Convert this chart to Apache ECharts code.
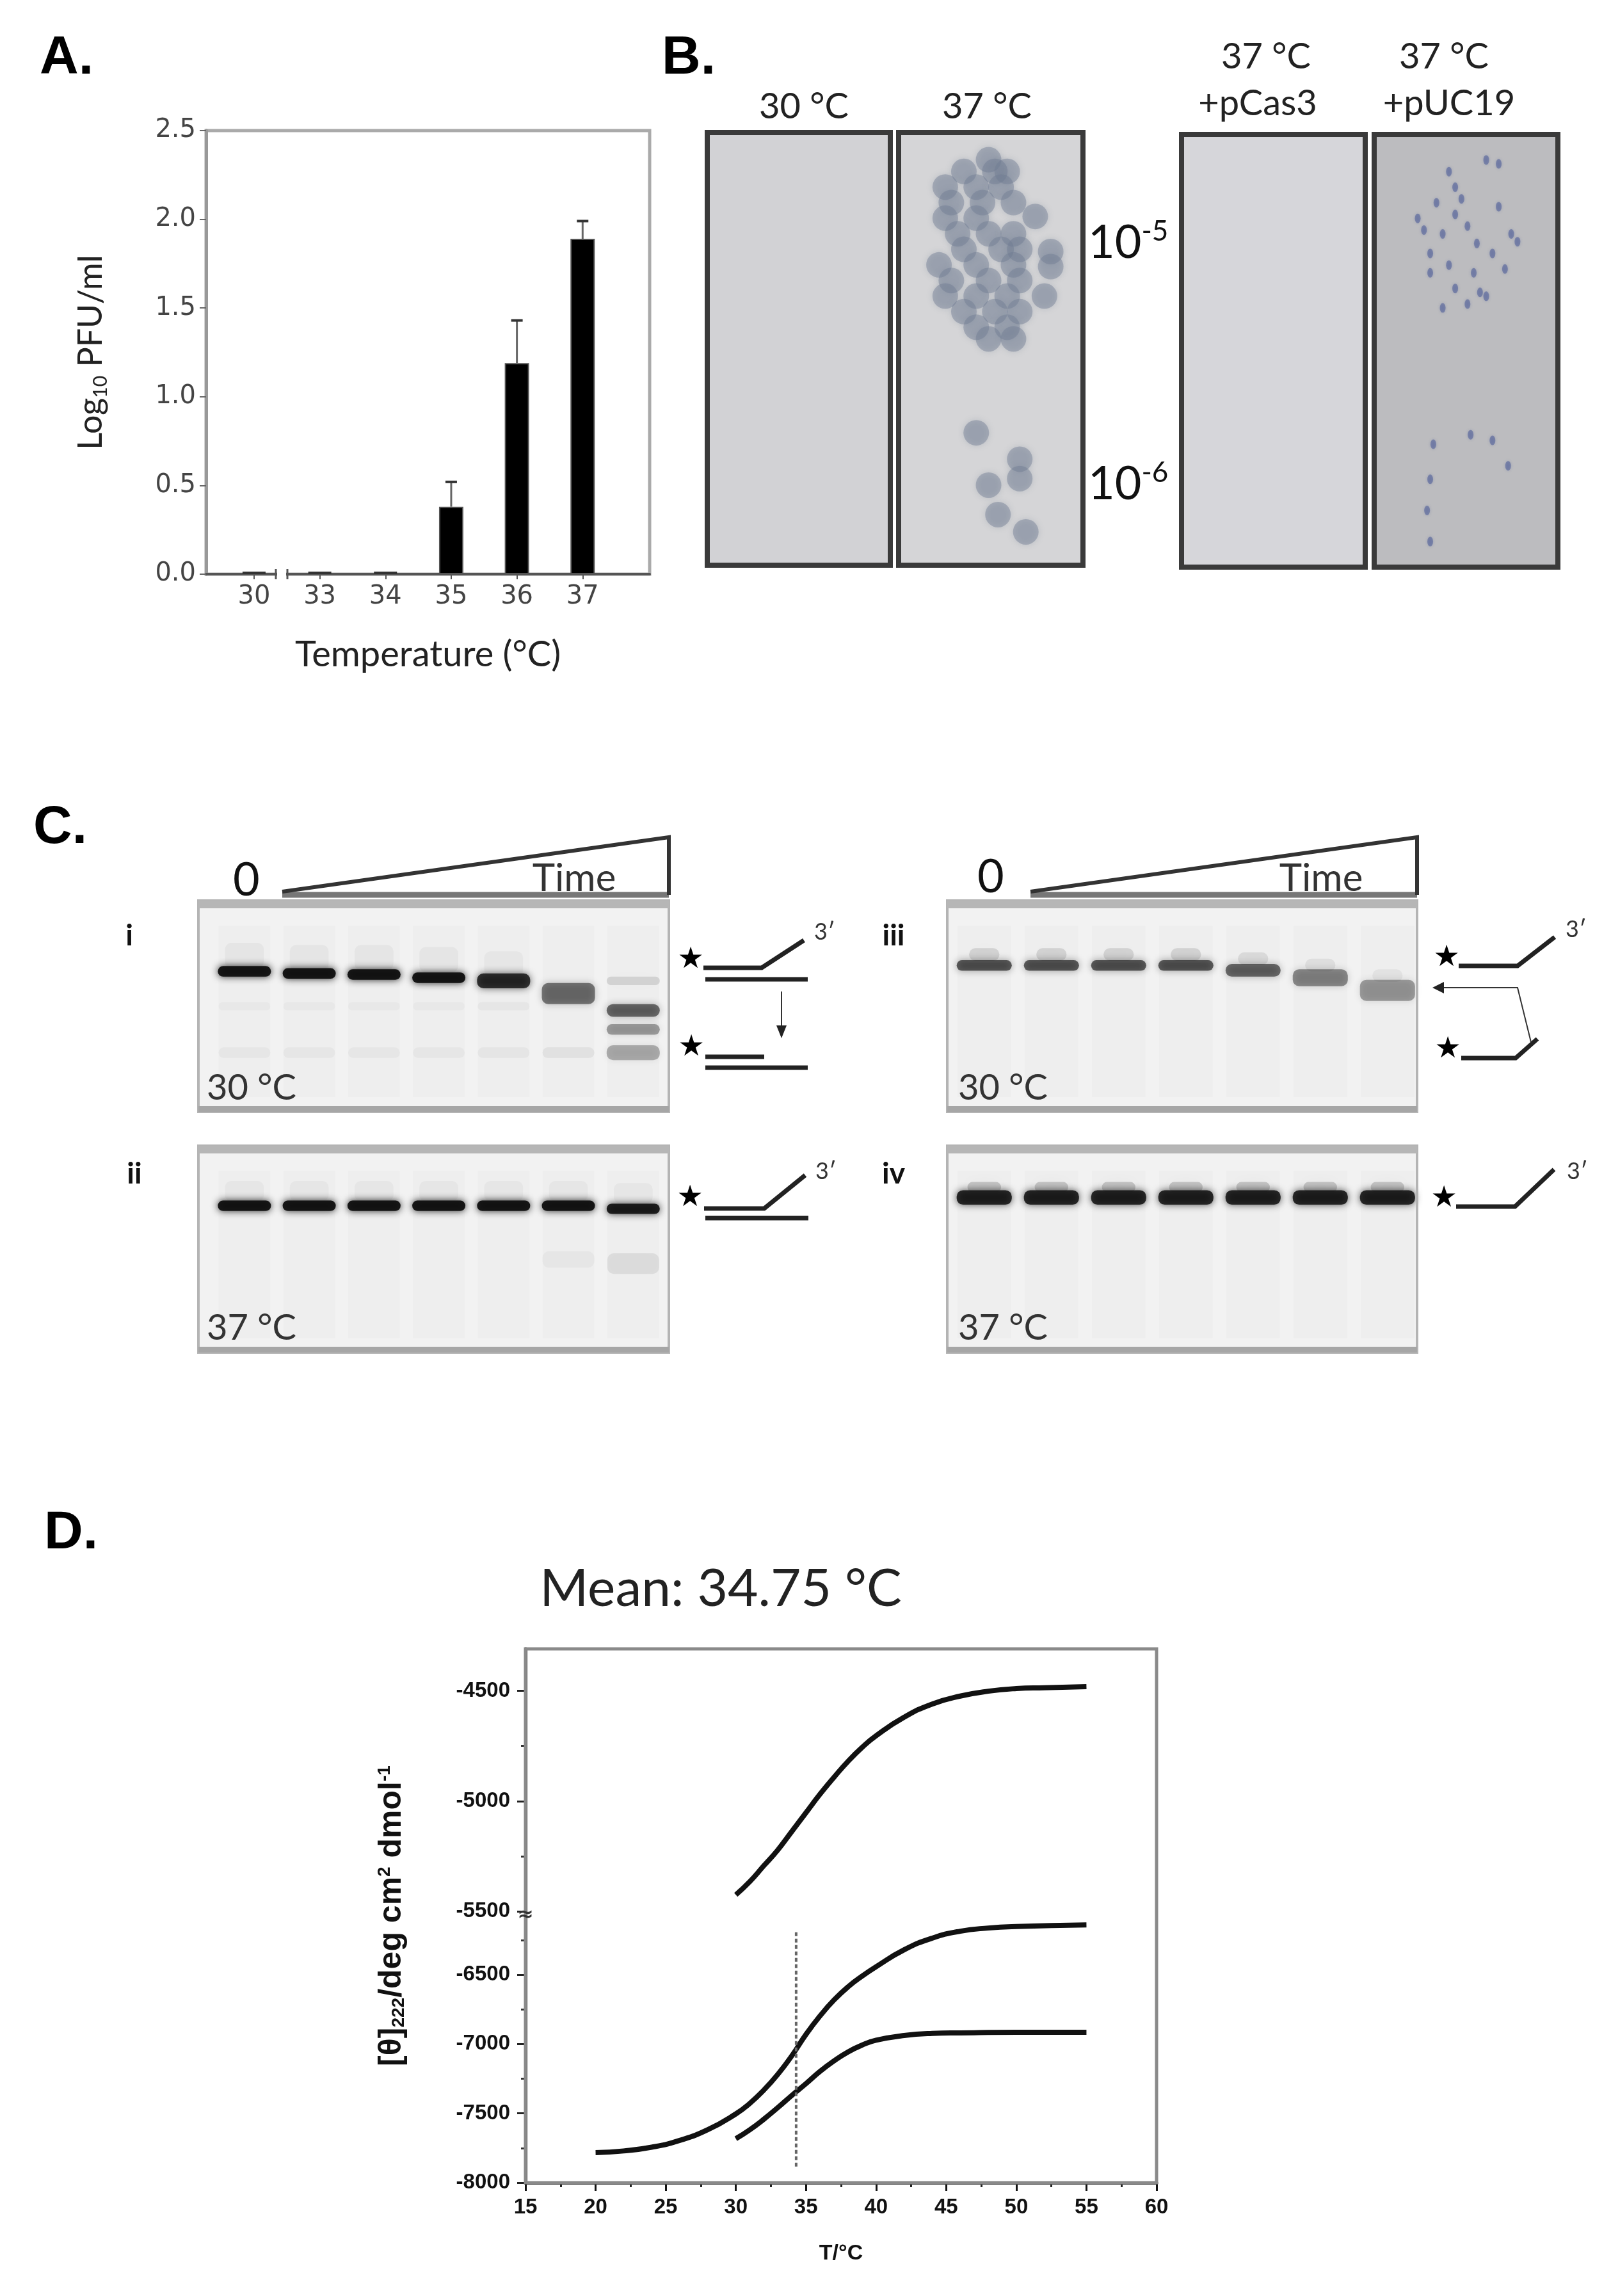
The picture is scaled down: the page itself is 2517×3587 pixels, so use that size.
<!DOCTYPE html>
<html>
<head>
<meta charset="utf-8">
<title>Temperature figure</title>
<script src="https://cdn.jsdelivr.net/npm/echarts@6.0.0/dist/echarts.min.js"></script>
<style>
html, body { margin: 0; padding: 0; background: #fff; }
#main { width: 2517px; height: 3587px; }
</style>
</head>
<body>
<div id="main"></div>
<script>
// ---------- A: plaque titre vs temperature ----------
var tempCats = ['30', '33', '34', '35', '36', '37'];
var pfuLog = [0, 0, 0, 0.38, 1.19, 1.89];
var pfuErr = [0, 0, 0, 0.14, 0.24, 0.10];

// ---------- B: plaques, [x, y] as fraction of the plate (from top-left) ----------
var plaques37 = [
    [0.488, 0.063], [0.354, 0.090], [0.522, 0.090], [0.589, 0.090],
    [0.253, 0.126], [0.421, 0.126], [0.556, 0.126],
    [0.286, 0.162], [0.455, 0.162], [0.623, 0.162],
    [0.253, 0.198], [0.421, 0.198], [0.741, 0.194],
    [0.320, 0.234], [0.488, 0.234], [0.623, 0.234],
    [0.354, 0.270], [0.556, 0.270], [0.657, 0.270], [0.825, 0.275],
    [0.219, 0.306], [0.421, 0.306], [0.623, 0.306], [0.825, 0.310],
    [0.286, 0.342], [0.488, 0.342], [0.657, 0.342],
    [0.253, 0.378], [0.421, 0.378], [0.589, 0.378], [0.791, 0.378],
    [0.354, 0.414], [0.522, 0.414], [0.657, 0.414],
    [0.421, 0.450], [0.589, 0.450],
    [0.488, 0.477], [0.623, 0.477],
    [0.421, 0.694], [0.657, 0.755], [0.657, 0.800], [0.488, 0.815],
    [0.539, 0.883], [0.690, 0.923]
];
var plaquesUC19 = [
    [0.407, 0.086], [0.441, 0.122], [0.339, 0.158], [0.441, 0.185], [0.271, 0.221],
    [0.373, 0.230], [0.508, 0.212], [0.559, 0.252], [0.305, 0.275], [0.407, 0.302],
    [0.542, 0.320], [0.678, 0.167], [0.746, 0.230], [0.780, 0.248], [0.610, 0.059],
    [0.678, 0.068], [0.305, 0.320], [0.441, 0.356], [0.576, 0.365], [0.373, 0.401],
    [0.508, 0.392], [0.610, 0.374], [0.712, 0.311], [0.475, 0.149], [0.644, 0.275],
    [0.237, 0.194],
    [0.322, 0.716], [0.525, 0.694], [0.644, 0.707], [0.729, 0.766], [0.305, 0.797],
    [0.305, 0.941], [0.288, 0.869]
];

// ---------- C: gel bands [lane, position (fraction of gel height), thickness, darkness, width] ----------
var lanes = [1, 2, 3, 4, 5, 6, 7];
var gelI = [
    [1, 0.26, 0.12, 0.04, 0.6], [2, 0.27, 0.12, 0.04, 0.6], [3, 0.27, 0.12, 0.04, 0.6],
    [4, 0.28, 0.12, 0.04, 0.6], [5, 0.30, 0.12, 0.035, 0.6],
    [1, 0.335, 0.05, 0.95, 0.82], [2, 0.345, 0.05, 0.95, 0.82], [3, 0.35, 0.05, 0.95, 0.82],
    [4, 0.365, 0.05, 0.95, 0.82], [5, 0.38, 0.07, 0.8, 0.82], [6, 0.44, 0.10, 0.5, 0.82],
    [7, 0.38, 0.04, 0.12, 0.82], [7, 0.52, 0.06, 0.55, 0.82], [7, 0.61, 0.05, 0.35, 0.82],
    [7, 0.72, 0.07, 0.28, 0.82],
    [1, 0.50, 0.04, 0.025, 0.8], [2, 0.50, 0.04, 0.025, 0.8], [3, 0.50, 0.04, 0.025, 0.8],
    [4, 0.50, 0.04, 0.025, 0.8], [5, 0.50, 0.04, 0.035, 0.8],
    [1, 0.72, 0.05, 0.035, 0.8], [2, 0.72, 0.05, 0.035, 0.8], [3, 0.72, 0.05, 0.03, 0.8],
    [4, 0.72, 0.05, 0.03, 0.8], [5, 0.72, 0.05, 0.04, 0.8], [6, 0.72, 0.05, 0.06, 0.8]
];
var gelII = [
    [1, 0.22, 0.10, 0.035, 0.6], [2, 0.22, 0.10, 0.035, 0.6], [3, 0.22, 0.10, 0.035, 0.6],
    [4, 0.22, 0.10, 0.035, 0.6], [5, 0.22, 0.10, 0.035, 0.6], [6, 0.22, 0.10, 0.035, 0.6],
    [7, 0.23, 0.10, 0.035, 0.6],
    [1, 0.29, 0.05, 0.95, 0.82], [2, 0.29, 0.05, 0.95, 0.82], [3, 0.29, 0.05, 0.95, 0.82],
    [4, 0.29, 0.05, 0.95, 0.82], [5, 0.29, 0.05, 0.95, 0.82], [6, 0.29, 0.05, 0.95, 0.82],
    [7, 0.305, 0.05, 0.9, 0.82],
    [6, 0.55, 0.08, 0.035, 0.8], [7, 0.57, 0.1, 0.08, 0.8]
];
var gelIII = [
    [1, 0.255, 0.06, 0.12, 0.45], [2, 0.255, 0.06, 0.12, 0.45], [3, 0.255, 0.06, 0.12, 0.45],
    [4, 0.255, 0.06, 0.12, 0.45], [5, 0.275, 0.06, 0.09, 0.45], [6, 0.305, 0.06, 0.07, 0.45],
    [7, 0.355, 0.06, 0.05, 0.45],
    [1, 0.307, 0.05, 0.62, 0.82], [2, 0.307, 0.05, 0.62, 0.82], [3, 0.307, 0.05, 0.62, 0.82],
    [4, 0.307, 0.05, 0.62, 0.82], [5, 0.33, 0.06, 0.55, 0.82], [6, 0.365, 0.08, 0.42, 0.82],
    [7, 0.425, 0.10, 0.35, 0.82]
];
var gelIV = [
    [1, 0.20, 0.05, 0.18, 0.5], [2, 0.20, 0.05, 0.18, 0.5], [3, 0.20, 0.05, 0.18, 0.5],
    [4, 0.20, 0.05, 0.18, 0.5], [5, 0.20, 0.05, 0.18, 0.5], [6, 0.20, 0.05, 0.18, 0.5],
    [7, 0.20, 0.05, 0.18, 0.5],
    [1, 0.25, 0.07, 0.85, 0.82], [2, 0.25, 0.07, 0.85, 0.82], [3, 0.25, 0.07, 0.85, 0.82],
    [4, 0.25, 0.07, 0.85, 0.82], [5, 0.25, 0.07, 0.85, 0.82], [6, 0.25, 0.07, 0.85, 0.82],
    [7, 0.25, 0.07, 0.85, 0.82]
];

// ---------- D: CD melting curves ----------
var tempD1 = [30, 31, 32, 33, 34, 35, 36, 37, 38, 39, 40, 42, 44, 46, 48, 50, 52, 55];
var cdTop = [-5425, -5365, -5293, -5221, -5137, -5053, -4969, -4892, -4820, -4757, -4704, -4620, -4560, -4524, -4502, -4490, -4486, -4481];
var tempD2 = [20, 22, 24, 26, 28, 30, 31, 32, 33, 34, 35, 36, 37, 38, 39, 40, 42, 44, 46, 48, 50, 55];
var cdMid = [-7783, -7771, -7744, -7695, -7618, -7504, -7428, -7332, -7218, -7084, -6931, -6798, -6683, -6588, -6511, -6443, -6321, -6237, -6187, -6164, -6153, -6141];
var tempD3 = [30, 31, 32, 33, 34, 35, 36, 37, 38, 39, 40, 42, 44, 46, 50, 55];
var cdLow = [-7683, -7618, -7542, -7458, -7370, -7286, -7198, -7122, -7057, -7008, -6973, -6939, -6924, -6920, -6916, -6916];
var dashT = [34.3, 34.3];
var dashCD = [-6195, -7886];

function zip(a, b) {
    return a.map(function (v, i) { return [v, b[i]]; });
}

var chart = echarts.init(document.getElementById('main'), null, { width: 2517, height: 3587 });

// error bar (upper half only)
function errItem(params, api) {
    var x = api.value(0), v = api.value(1), e = api.value(2);
    var base = api.coord([x, v]);
    var top = api.coord([x, v + e]);
    var hw = e > 0 ? 9 : 18;
    return {
        type: 'group',
        children: [
            { type: 'line', shape: { x1: base[0], y1: base[1], x2: top[0], y2: top[1] }, style: { stroke: '#666', lineWidth: 3 } },
            { type: 'line', shape: { x1: top[0] - hw, y1: top[1] - (e > 0 ? 0 : 2), x2: top[0] + hw, y2: top[1] - (e > 0 ? 0 : 2) }, style: { stroke: '#333', lineWidth: 4 } }
        ]
    };
}

// gel band, blurred
function bandItem(params, api) {
    var lane = api.value(0), y = api.value(1), h = api.value(2), a = api.value(3), w = api.value(4);
    var p0 = api.coord([lane - w / 2, y - h / 2]);
    var p1 = api.coord([lane + w / 2, y + h / 2]);
    var c = 'rgba(15,15,15,' + a + ')';
    var bh = Math.abs(p1[1] - p0[1]);
    return {
        type: 'rect',
        shape: { x: Math.min(p0[0], p1[0]), y: Math.min(p0[1], p1[1]), width: Math.abs(p1[0] - p0[0]), height: bh, r: Math.min(10, bh / 2) },
        style: { fill: c, shadowBlur: a < 0.2 ? 22 : 12, shadowColor: c }
    };
}

// faint lane streaks
function laneItem(params, api) {
    var lane = api.value(0);
    var p0 = api.coord([lane - 0.4, 0.12]);
    var p1 = api.coord([lane + 0.4, 0.93]);
    return {
        type: 'rect',
        shape: { x: p0[0], y: Math.min(p0[1], p1[1]), width: p1[0] - p0[0], height: Math.abs(p1[1] - p0[1]) },
        style: { fill: 'rgba(0,0,0,0.014)', shadowBlur: 10, shadowColor: 'rgba(0,0,0,0.014)' }
    };
}

function hiddenAxis(i, min, max, inverse) {
    return { type: 'value', gridIndex: i, min: min, max: max, inverse: !!inverse, show: false };
}

var plateGrids = [
    { left: 1105, top: 207, width: 286, height: 676, bg: '#d2d2d5' },
    { left: 1404, top: 207, width: 288, height: 676, bg: '#d5d5d7' },
    { left: 1846, top: 210, width: 287, height: 676, bg: '#d6d6da' },
    { left: 2147, top: 210, width: 287, height: 676, bg: '#bcbcbf' }
];
var gelGrids = [
    { left: 310, top: 1407, width: 735, height: 330 },
    { left: 310, top: 1790, width: 735, height: 323 },
    { left: 1480, top: 1407, width: 734, height: 330 },
    { left: 1480, top: 1790, width: 734, height: 323 }
];

var grids = [{ left: 322, top: 204, width: 693, height: 693, show: true, borderColor: '#aaa', borderWidth: 5 }];
plateGrids.forEach(function (g) {
    grids.push({ left: g.left, top: g.top, width: g.width, height: g.height, show: true, backgroundColor: g.bg, borderColor: '#3a3a3a', borderWidth: 8 });
});
gelGrids.forEach(function (g) {
    grids.push({ left: g.left, top: g.top, width: g.width, height: g.height, show: true, backgroundColor: '#f2f2f2', borderWidth: 0 });
});
grids.push({ left: 821, top: 2576, width: 986, height: 419 });
grids.push({ left: 821, top: 2995, width: 986, height: 415 });

var labelFontD = { fontFamily: 'Liberation Sans', fontWeight: 'bold', fontSize: 33, color: '#111', formatter: function (v) { return String(v); } };

var xAxes = [
    {
        type: 'value', gridIndex: 0, min: -0.73, max: 6.02,
        axisLine: { show: true, onZero: false, lineStyle: { color: '#555', width: 4 } },
        axisTick: { show: true, customValues: [0, 1, 2, 3, 4, 5], length: 8, lineStyle: { color: '#555', width: 2 } },
        axisLabel: { customValues: [0, 1, 2, 3, 4, 5], formatter: function (v) { return tempCats[Math.round(v)]; }, fontFamily: 'DejaVu Sans', fontSize: 40, color: '#444', margin: 16 },
        splitLine: { show: false },
        name: 'Temperature (°C)', nameLocation: 'middle', nameGap: 98,
        nameTextStyle: { fontFamily: 'Lato', fontSize: 56, color: '#222' }
    }
];
var yAxes = [
    {
        type: 'value', gridIndex: 0, min: 0, max: 2.5, interval: 0.5,
        axisLine: { show: true, onZero: false, lineStyle: { color: '#999', width: 5 } },
        axisTick: { show: true, length: 10, lineStyle: { color: '#666', width: 2 } },
        axisLabel: { formatter: function (v) { return v.toFixed(1); }, fontFamily: 'DejaVu Sans', fontSize: 40, color: '#444', margin: 16 },
        splitLine: { show: false },
        name: 'Log{sub|10} PFU/ml', nameLocation: 'middle', nameRotate: 90, nameGap: 150,
        nameTextStyle: {
            fontFamily: 'Lato', fontSize: 52, color: '#222', lineHeight: 60,
            rich: { sub: { fontFamily: 'Lato', fontSize: 30, color: '#222', verticalAlign: 'bottom', lineHeight: 30 } }
        }
    }
];
for (var i = 1; i <= 4; i++) {
    xAxes.push(hiddenAxis(i, 0, 1));
    yAxes.push(hiddenAxis(i, 0, 1, true));
}
xAxes.push(hiddenAxis(5, 0.29, 7.55));
yAxes.push(hiddenAxis(5, 0, 1, true));
xAxes.push(hiddenAxis(6, 0.29, 7.55));
yAxes.push(hiddenAxis(6, 0, 1, true));
xAxes.push(hiddenAxis(7, 0.45, 7.44));
yAxes.push(hiddenAxis(7, 0, 1, true));
xAxes.push(hiddenAxis(8, 0.45, 7.44));
yAxes.push(hiddenAxis(8, 0, 1, true));

// D axes
xAxes.push(hiddenAxis(9, 15, 60));
xAxes.push({
    type: 'value', gridIndex: 10, min: 15, max: 60, interval: 5,
    axisLine: { show: true, onZero: false, lineStyle: { color: '#111', width: 5 } },
    axisTick: { show: true, length: 13, lineStyle: { color: '#111', width: 3 } },
    minorTick: { show: true, splitNumber: 2, length: 7, lineStyle: { color: '#222', width: 3 } },
    axisLabel: Object.assign({ margin: 22 }, labelFontD),
    splitLine: { show: false },
    name: 'T/°C', nameLocation: 'middle', nameGap: 94,
    nameTextStyle: { fontFamily: 'Liberation Sans', fontWeight: 'bold', fontSize: 34, color: '#111' }
});
yAxes.push({
    type: 'value', gridIndex: 9, min: -5526, max: -4310, position: 'left',
    axisLine: { show: true, onZero: false, lineStyle: { color: '#111', width: 5 } },
    axisTick: { show: true, customValues: [-5500, -5000, -4500], length: 13, lineStyle: { color: '#222', width: 3 } },
    axisLabel: Object.assign({ customValues: [-5500, -5000, -4500], margin: 24 }, labelFontD),
    splitLine: { show: false }
});
yAxes.push({
    type: 'value', gridIndex: 10, min: -8000, max: -6085, position: 'left',
    axisLine: { show: true, onZero: false, lineStyle: { color: '#111', width: 5 } },
    axisTick: { show: true, customValues: [-8000, -7500, -7000, -6500], length: 13, lineStyle: { color: '#222', width: 3 } },
    axisLabel: Object.assign({ customValues: [-8000, -7500, -7000, -6500], margin: 24 }, labelFontD),
    splitLine: { show: false }
});
yAxes.push({
    type: 'value', gridIndex: 9, min: -5526, max: -4310, position: 'left', offset: 0,
    axisLine: { show: false, onZero: false },
    axisTick: { show: true, customValues: [-5250, -4750], length: 7, lineStyle: { color: '#333', width: 3 } },
    axisLabel: { show: false }, splitLine: { show: false }
});
yAxes.push({
    type: 'value', gridIndex: 10, min: -8000, max: -6085, position: 'left', offset: 0,
    axisLine: { show: false, onZero: false },
    axisTick: { show: true, customValues: [-7750, -7250, -6750, -6250], length: 7, lineStyle: { color: '#333', width: 3 } },
    axisLabel: { show: false }, splitLine: { show: false }
});

var series = [
    {
        type: 'bar', xAxisIndex: 0, yAxisIndex: 0, barWidth: 38,
        data: zip([0, 1, 2, 3, 4, 5], pfuLog),
        itemStyle: { color: '#000', borderColor: '#555', borderWidth: 2 }
    },
    {
        type: 'custom', xAxisIndex: 0, yAxisIndex: 0, renderItem: errItem,
        data: pfuLog.map(function (v, i) { return [i, v, pfuErr[i]]; }), z: 5
    },
    {
        type: 'scatter', xAxisIndex: 2, yAxisIndex: 2, data: plaques37, symbolSize: 40,
        itemStyle: { color: 'rgba(112,124,146,0.55)', shadowBlur: 10, shadowColor: 'rgba(112,124,146,0.6)' }
    },
    {
        type: 'scatter', xAxisIndex: 4, yAxisIndex: 4, data: plaquesUC19, symbolSize: [9, 15],
        itemStyle: { color: 'rgba(70,86,150,0.65)', shadowBlur: 4, shadowColor: 'rgba(70,86,150,0.5)' }
    }
];
[gelI, gelII, gelIII, gelIV].forEach(function (g, k) {
    series.push({ type: 'custom', xAxisIndex: 5 + k, yAxisIndex: 5 + k, renderItem: laneItem, data: lanes.map(function (l) { return [l]; }) });
    series.push({ type: 'custom', xAxisIndex: 5 + k, yAxisIndex: 5 + k, renderItem: bandItem, data: g });
});
var curveStyle = { color: '#111', width: 8 };
series.push({ type: 'line', xAxisIndex: 9, yAxisIndex: 9, data: zip(tempD1, cdTop), smooth: true, showSymbol: false, lineStyle: curveStyle });
series.push({ type: 'line', xAxisIndex: 10, yAxisIndex: 10, data: zip(tempD2, cdMid), smooth: true, showSymbol: false, lineStyle: curveStyle });
series.push({ type: 'line', xAxisIndex: 10, yAxisIndex: 10, data: zip(tempD3, cdLow), smooth: true, showSymbol: false, lineStyle: curveStyle });
series.push({ type: 'line', xAxisIndex: 10, yAxisIndex: 10, data: zip(dashT, dashCD), showSymbol: false, lineStyle: { color: '#666', width: 4, type: [6, 4] } });

// ---------- annotations ----------
function txt(s, x, y, font, opt) {
    opt = opt || {};
    return {
        type: 'text', x: x, y: y, rotation: opt.rotation || 0, z: 10,
        style: {
            text: s, font: font, fill: opt.fill || '#222',
            textAlign: opt.align || 'center', textVerticalAlign: 'middle',
            align: opt.align || 'center', verticalAlign: 'middle',
            rich: opt.rich
        }
    };
}
function pl(points, color, width) {
    return { type: 'polyline', z: 10, shape: { points: points }, style: { stroke: color, lineWidth: width, fill: null, lineJoin: 'miter' } };
}
function poly(points, color) {
    return { type: 'polygon', z: 10, shape: { points: points }, style: { fill: color } };
}
function rect(x, y, w, h, fill, stroke, lw) {
    return { type: 'rect', z: 5, shape: { x: x, y: y, width: w, height: h }, style: { fill: fill || null, stroke: stroke || null, lineWidth: lw || 0 } };
}

var fLetter = 'bold 84px "Liberation Sans"';
var fB = '56px Lato';
var elements = [
    txt('A.', 62, 92, fLetter, { align: 'left', fill: '#000' }),
    txt('B.', 1034, 92, fLetter, { align: 'left', fill: '#000' }),
    txt('C.', 52, 1294, fLetter, { align: 'left', fill: '#000' }),
    txt('D.', 69, 2396, fLetter, { align: 'left', fill: '#000' }),

    // A: axis break between 30 and 33
    rect(433, 890, 14, 14, '#fff'),
    pl([[431, 889], [431, 905]], '#555', 3),
    pl([[449, 889], [449, 905]], '#555', 3),

    // B headings
    txt('30 °C', 1256, 167, fB),
    txt('37 °C', 1542, 167, fB),
    txt('37 °C', 1978, 89, fB),
    txt('+pCas3', 1965, 162, fB),
    txt('37 °C', 2256, 89, fB),
    txt('+pUC19', 2264, 162, fB),
    txt('10{s|-5}', 1700, 380, '72px Lato', { align: 'left', fill: '#111', rich: { s: { font: '44px Lato', fill: '#111', verticalAlign: 'top', lineHeight: 80 } } }),
    txt('10{s|-6}', 1700, 757, '72px Lato', { align: 'left', fill: '#111', rich: { s: { font: '44px Lato', fill: '#111', verticalAlign: 'top', lineHeight: 80 } } }),

    // C
    txt('0', 385, 1376, '72px Lato', { fill: '#111' }),
    txt('Time', 897, 1373, '60px Lato', { fill: '#333' }),
    txt('0', 1548, 1371, '72px Lato', { fill: '#111' }),
    txt('Time', 2064, 1373, '60px Lato', { fill: '#333' }),
    txt('i', 202, 1462, 'bold 46px Lato', { fill: '#111' }),
    txt('ii', 210, 1834, 'bold 46px Lato', { fill: '#111' }),
    txt('iii', 1396, 1462, 'bold 46px Lato', { fill: '#111' }),
    txt('iv', 1396, 1834, 'bold 46px Lato', { fill: '#111' }),
    txt('30 °C', 323, 1700, '56px Lato', { align: 'left', fill: '#333' }),
    txt('37 °C', 323, 2075, '56px Lato', { align: 'left', fill: '#333' }),
    txt('30 °C', 1497, 1700, '56px Lato', { align: 'left', fill: '#333' }),
    txt('37 °C', 1497, 2075, '56px Lato', { align: 'left', fill: '#333' }),

    // wedges
    pl([[441, 1398], [1045, 1398]], '#777', 9),
    pl([[441, 1393], [1045, 1308], [1045, 1398]], '#333', 6),
    pl([[1610, 1398], [2214, 1398]], '#777', 9),
    pl([[1610, 1393], [2214, 1308], [2214, 1398]], '#333', 6),

    // schematic i
    txt('★', 1079, 1500, '46px "DejaVu Sans"', { fill: '#000' }),
    pl([[1099, 1512], [1190, 1512], [1256, 1469]], '#222', 7),
    pl([[1102, 1530], [1262, 1530]], '#222', 7),
    txt('3′', 1272, 1456, '36px Lato', { align: 'left', fill: '#333' }),
    pl([[1221, 1549], [1221, 1608]], '#333', 2),
    poly([[1213, 1602], [1229, 1602], [1221, 1622]], '#222'),
    txt('★', 1080, 1637, '46px "DejaVu Sans"', { fill: '#000' }),
    pl([[1102, 1651], [1194, 1651]], '#222', 7),
    pl([[1102, 1668], [1262, 1668]], '#222', 7),

    // schematic ii
    txt('★', 1078, 1872, '46px "DejaVu Sans"', { fill: '#000' }),
    pl([[1100, 1888], [1194, 1888], [1258, 1836]], '#222', 7),
    pl([[1102, 1903], [1263, 1903]], '#222', 7),
    txt('3′', 1274, 1830, '36px Lato', { align: 'left', fill: '#333' }),

    // schematic iii
    txt('★', 2260, 1497, '46px "DejaVu Sans"', { fill: '#000' }),
    pl([[2279, 1509], [2371, 1509], [2429, 1464]], '#222', 7),
    txt('3′', 2446, 1452, '36px Lato', { align: 'left', fill: '#333' }),
    pl([[2392, 1628], [2371, 1543], [2252, 1543]], '#333', 2),
    poly([[2238, 1543], [2256, 1534], [2256, 1552]], '#222'),
    txt('★', 2262, 1640, '46px "DejaVu Sans"', { fill: '#000' }),
    pl([[2283, 1653], [2368, 1653], [2402, 1623]], '#222', 7),

    // schematic iv
    txt('★', 2256, 1873, '46px "DejaVu Sans"', { fill: '#000' }),
    pl([[2275, 1885], [2367, 1885], [2428, 1827]], '#222', 7),
    txt('3′', 2448, 1830, '36px Lato', { align: 'left', fill: '#333' }),

    // D
    txt('Mean: 34.75 °C', 1126, 2483, '82px Lato', { fill: '#222' }),
    rect(821, 2576, 986, 834, null, '#8a8a8a', 5),
    txt('≈', 821, 2992, 'bold 30px "DejaVu Sans"', { fill: '#333' }),
    txt('[θ]{sub|222}/deg cm{sup|2} dmol{sup|-1}', 612, 2993, 'bold 50px "Liberation Sans"', {
        fill: '#111', rotation: Math.PI / 2,
        rich: {
            sub: { font: 'bold 28px "Liberation Sans"', fill: '#111', verticalAlign: 'bottom', lineHeight: 28 },
            sup: { font: 'bold 28px "Liberation Sans"', fill: '#111', verticalAlign: 'top', lineHeight: 28 }
        }
    })
];
// gel frames
gelGrids.forEach(function (g) {
    elements.push(rect(g.left, g.top, g.width, g.height, null, '#b4b4b4', 4));
    elements.push(rect(g.left, g.top, g.width, 12, '#b6b6b6'));
    elements.push(rect(g.left, g.top + g.height - 9, g.width, 9, '#a6a6a6'));
});

chart.setOption({
    animation: false,
    backgroundColor: '#fff',
    textStyle: { fontFamily: 'Lato' },
    grid: grids,
    xAxis: xAxes,
    yAxis: yAxes,
    series: series,
    graphic: { elements: elements }
});
</script>
</body>
</html>
